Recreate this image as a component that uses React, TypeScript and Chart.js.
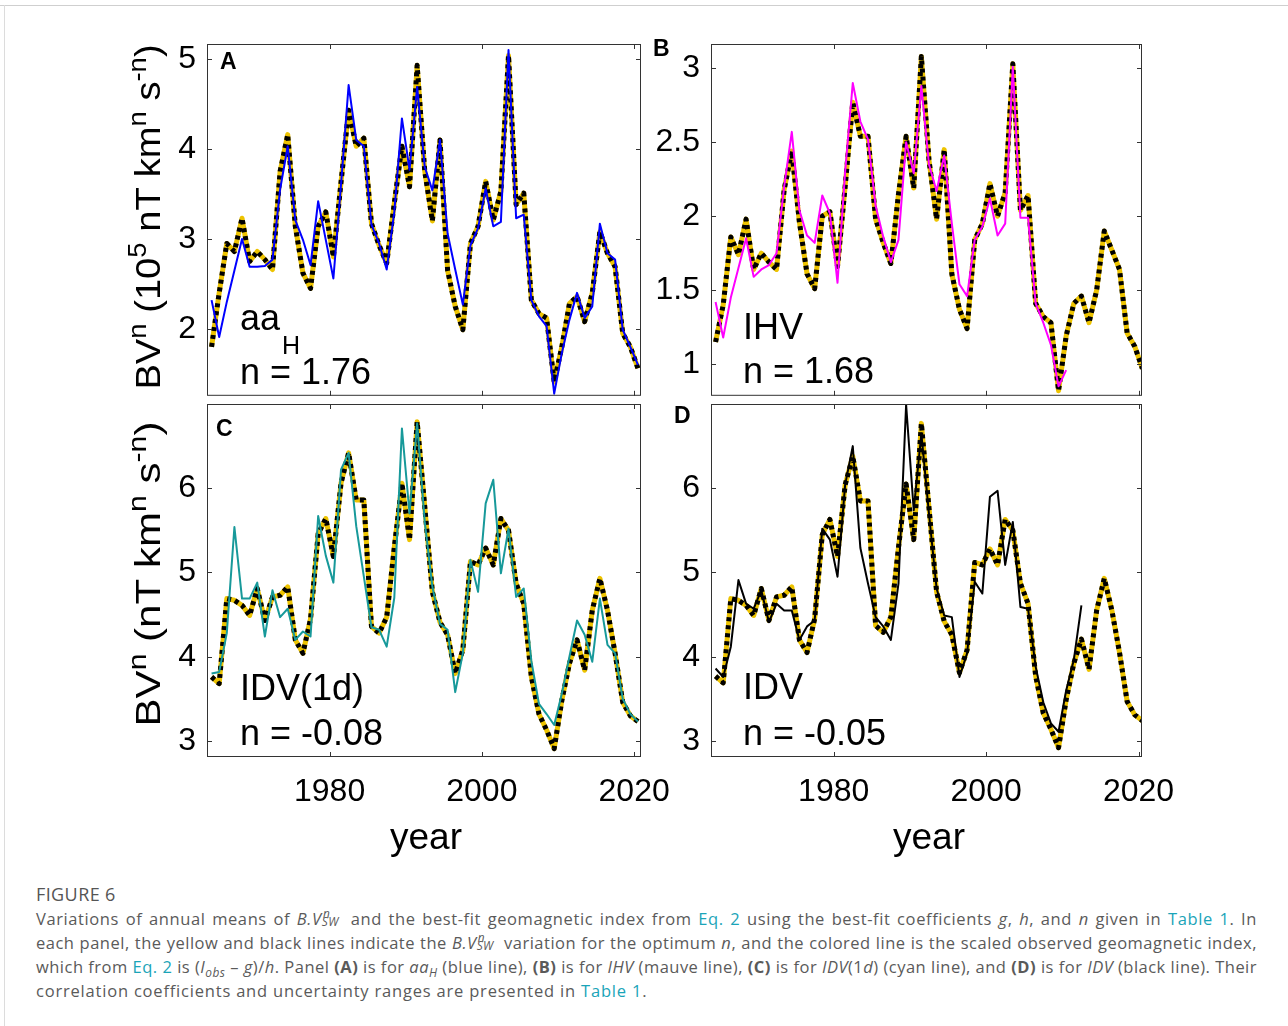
import React, { useEffect, useRef } from "react";
import { Chart, registerables } from "chart.js";

Chart.register(...registerables);

// ---------------- DATA ----------------
const years = [
  1964, 1965, 1966, 1967, 1968, 1969, 1970, 1971, 1972, 1973,
  1974, 1975, 1976, 1977, 1978, 1979, 1980, 1981, 1982, 1983,
  1984, 1985, 1986, 1987, 1988, 1989, 1990, 1991, 1992, 1993,
  1994, 1995, 1996, 1997, 1998, 1999, 2000, 2001, 2002, 2003,
  2004, 2005, 2006, 2007, 2008, 2009, 2010, 2011, 2012, 2013,
  2014, 2015, 2016, 2017, 2018, 2019, 2020,
];

// Panel A: B.V^n (n = 1.76) and scaled aa_H
const bvAaH = [
  1.8, 2.4, 2.95, 2.86, 3.23, 2.75, 2.86, 2.77, 2.66, 3.75,
  4.16, 3.14, 2.62, 2.45, 3.14, 3.3, 2.8, 3.63, 4.43, 4.03,
  4.12, 3.17, 2.93, 2.73, 3.4, 4.03, 3.58, 4.93, 3.75, 3.2,
  4.1, 2.65, 2.25, 1.99, 2.95, 3.14, 3.64, 3.21, 3.53, 5.04,
  3.38, 3.51, 2.32, 2.17, 2.12, 1.41, 1.8, 2.28, 2.36, 2.08,
  2.4, 3.08, 2.84, 2.69, 1.95, 1.8, 1.56,
];
const aaH = [
  2.32, 1.91, 2.3, 2.65, 3.0, 2.69, 2.69, 2.7, 2.77, 3.55,
  4.03, 3.21, 2.99, 2.71, 3.42, 2.99, 2.56, 3.6, 4.71, 4.1,
  4.03, 3.16, 2.95, 2.66, 3.3, 4.34, 3.77, 4.69, 3.8, 3.54,
  4.1, 3.06, 2.66, 2.27, 2.93, 3.12, 3.56, 3.14, 3.19, 5.1,
  3.23, 3.27, 2.32, 2.14, 2.03, 1.28, 1.73, 2.1, 2.4, 2.12,
  2.25, 3.17, 2.84, 2.77, 1.99, 1.8, 1.6,
];

// Panel B: B.V^n (n = 1.68) and scaled IHV (1964-2010)
const bvIhv = [
  1.15, 1.4, 1.86, 1.74, 1.98, 1.64, 1.75, 1.69, 1.64, 2.18,
  2.44, 1.96, 1.61, 1.51, 2.0, 2.03, 1.66, 2.2, 2.77, 2.54,
  2.54, 1.98, 1.82, 1.68, 2.15, 2.54, 2.19, 3.08, 2.38, 1.98,
  2.45, 1.61, 1.37, 1.24, 1.84, 1.95, 2.22, 2.0, 2.16, 3.03,
  2.04, 2.14, 1.41, 1.32, 1.28, 0.82, 1.19, 1.41, 1.46, 1.28,
  1.5, 1.9, 1.77, 1.64, 1.21, 1.12, 0.97,
];
const ihv = [
  1.42, 1.18, 1.45, 1.65, 1.85, 1.59, 1.64, 1.67, 1.75, 2.2,
  2.57, 2.04, 1.87, 1.82, 2.14, 2.02, 1.55, 2.3, 2.9, 2.64,
  2.52, 2.07, 1.86, 1.69, 1.84, 2.5, 2.29, 2.88, 2.35, 2.17,
  2.41, 1.95, 1.54, 1.46, 1.84, 1.93, 2.12, 1.87, 1.95, 3.01,
  1.99, 1.99, 1.41, 1.28, 1.13, 0.85, 0.96,
];

// Panel C: B.V^n (n = -0.08) and scaled IDV(1d)
const bvIdv1d = [
  3.76, 3.68, 4.69, 4.67, 4.61, 4.49, 4.81, 4.43, 4.71, 4.73,
  4.83, 4.2, 4.04, 4.45, 5.46, 5.64, 5.19, 6.06, 6.42, 5.86,
  5.86, 4.36, 4.28, 4.47, 5.3, 6.06, 5.39, 6.79, 5.78, 4.77,
  4.41, 4.26, 3.8, 4.08, 5.13, 5.09, 5.29, 5.09, 5.64, 5.5,
  4.87, 4.63, 3.76, 3.32, 3.13, 2.91, 3.48, 3.92, 4.2, 3.84,
  4.55, 4.93, 4.55, 4.04, 3.46, 3.3, 3.23,
];
const idv1d = [
  3.8, 3.82, 4.28, 5.54, 4.69, 4.69, 4.88, 4.24, 4.79, 4.47,
  4.57, 4.2, 4.3, 4.24, 5.67, 5.2, 4.88, 6.22, 6.42, 5.55,
  4.95, 4.35, 4.32, 4.12, 4.7, 6.71, 5.7, 6.77, 5.6, 4.83,
  4.39, 4.32, 3.58, 4.04, 5.15, 4.77, 5.82, 6.1, 4.99, 5.52,
  4.71, 4.81, 3.95, 3.44, 3.32, 3.19, 3.56, 4.0, 4.43, 4.26,
  3.94, 4.69, 4.14, 4.04, 3.5, 3.32, 3.23,
];

// Panel D: B.V^n (n = -0.05) and scaled IDV (1964-2012)
const bvIdv = [
  3.77, 3.69, 4.69, 4.67, 4.61, 4.49, 4.81, 4.43, 4.71, 4.73,
  4.83, 4.2, 4.05, 4.45, 5.45, 5.63, 5.19, 6.04, 6.38, 5.85,
  5.85, 4.37, 4.29, 4.47, 5.3, 6.05, 5.39, 6.77, 5.77, 4.77,
  4.42, 4.26, 3.81, 4.08, 5.12, 5.09, 5.28, 5.09, 5.63, 5.5,
  4.87, 4.63, 3.77, 3.33, 3.14, 2.92, 3.49, 3.92, 4.21, 3.85,
  4.55, 4.93, 4.55, 4.05, 3.47, 3.31, 3.24,
];
const idv = [
  3.86, 3.76, 4.12, 4.91, 4.63, 4.57, 4.79, 4.41, 4.63, 4.55,
  4.55, 4.2, 4.36, 4.43, 5.52, 5.39, 4.95, 6.04, 6.5, 5.29,
  4.87, 4.47, 4.36, 4.2, 4.87, 6.99, 5.74, 6.65, 5.7, 4.81,
  4.49, 4.47, 3.76, 4.04, 4.89, 4.75, 5.9, 5.97, 5.09, 5.6,
  4.59, 4.57, 3.88, 3.46, 3.21, 3.11, 3.6, 3.96, 4.61,
];

const xTickValues = [1980, 2000, 2020];
const yTicksA = [2, 3, 4, 5];
const yTicksB = [1, 1.5, 2, 2.5, 3];
const yTicksCD = [3, 4, 5, 6];

// ---------------- LAYOUT / STYLE ----------------
const FONT = "'Liberation Sans', Arial, Helvetica, sans-serif";
const CAP_FONT = "'Open Sans', 'Noto Sans', sans-serif";
const YELLOW = "#EDC300";

type Panel = {
  key: string;
  left: number;
  top: number;
  w: number;
  h: number;
  xMin: number;
  xMax: number;
  yMin: number;
  yMax: number;
  yTicks: number[];
  bv: number[];
  obs: number[];
  color: string;
  showX: boolean;
};

const panels: Panel[] = [
  { key: "A", left: 207, top: 44, w: 434, h: 352, xMin: 1963.9, xMax: 2020.9, yMin: 1.256, yMax: 5.167, yTicks: yTicksA, bv: bvAaH, obs: aaH, color: "#0000FF", showX: false },
  { key: "B", left: 711, top: 44, w: 431, h: 352, xMin: 1963.9, xMax: 2020.45, yMin: 0.786, yMax: 3.164, yTicks: yTicksB, bv: bvIhv, obs: ihv, color: "#FF00FF", showX: false },
  { key: "C", left: 207, top: 404, w: 434, h: 353, xMin: 1963.9, xMax: 2020.9, yMin: 2.81, yMax: 7.0, yTicks: yTicksCD, bv: bvIdv1d, obs: idv1d, color: "#17999A", showX: true },
  { key: "D", left: 711, top: 404, w: 431, h: 353, xMin: 1963.9, xMax: 2020.45, yMin: 2.81, yMax: 7.0, yTicks: yTicksCD, bv: bvIdv, obs: idv, color: "#000000", showX: true },
];

const PAD_L = 80;
const PAD_T = 40;
const PAD_R = 50;
const PAD_B = 30;
const X_AXIS_H = 60;

const framePlugin = {
  id: "matlabFrame",
  afterDraw(chart: any) {
    const { ctx, chartArea: a, scales } = chart;
    ctx.save();
    ctx.strokeStyle = "#333333";
    ctx.lineWidth = 1;
    ctx.strokeRect(a.left + 0.5, a.top + 0.5, a.right - a.left - 1, a.bottom - a.top - 1);
    const tl = 5;
    ctx.beginPath();
    scales.x.ticks.forEach((t: any) => {
      const x = Math.round(scales.x.getPixelForValue(t.value)) + 0.5;
      ctx.moveTo(x, a.top);
      ctx.lineTo(x, a.top + tl);
      ctx.moveTo(x, a.bottom);
      ctx.lineTo(x, a.bottom - tl);
    });
    scales.y.ticks.forEach((t: any) => {
      const y = Math.round(scales.y.getPixelForValue(t.value)) + 0.5;
      ctx.moveTo(a.left, y);
      ctx.lineTo(a.left + tl, y);
      ctx.moveTo(a.right, y);
      ctx.lineTo(a.right - tl, y);
    });
    ctx.stroke();
    ctx.restore();
  },
};

function toPoints(vals: number[]) {
  return vals.map((v, i) => ({ x: years[i] + 0.5, y: v }));
}

function makeConfig(p: Panel): any {
  return {
    type: "line",
    data: {
      datasets: [
        { data: toPoints(p.obs), borderColor: p.color, borderWidth: 2, pointRadius: 0, tension: 0, order: 0, borderJoinStyle: "round" },
        { data: toPoints(p.bv), borderColor: "#000000", borderWidth: 5, borderDash: [4, 4], borderCapStyle: "butt", borderJoinStyle: "round", pointRadius: 0, tension: 0, order: 1 },
        { data: toPoints(p.bv), borderColor: YELLOW, borderWidth: 5, pointRadius: 0, tension: 0, order: 2, borderJoinStyle: "round" },
      ],
    },
    options: {
      animation: false,
      responsive: false,
      maintainAspectRatio: false,
      events: [],
      layout: { padding: { left: 0, top: PAD_T, right: PAD_R, bottom: PAD_B } },
      plugins: { legend: { display: false }, tooltip: { enabled: false }, title: { display: false } },
      scales: {
        x: {
          type: "linear",
          min: p.xMin,
          max: p.xMax,
          afterFit: (s: any) => {
            s.height = p.showX ? X_AXIS_H : 0;
          },
          afterBuildTicks: (s: any) => {
            s.ticks = xTickValues.map((v) => ({ value: v }));
          },
          grid: { display: false, drawTicks: false },
          border: { display: false },
          ticks: {
            display: p.showX,
            color: "#000",
            font: { family: FONT, size: 32 },
            padding: 16,
            maxRotation: 0,
            autoSkip: false,
            callback: (v: any) => String(v),
          },
        },
        y: {
          type: "linear",
          min: p.yMin,
          max: p.yMax,
          afterFit: (s: any) => {
            s.width = PAD_L;
          },
          afterBuildTicks: (s: any) => {
            s.ticks = p.yTicks.map((v) => ({ value: v }));
          },
          grid: { display: false, drawTicks: false },
          border: { display: false },
          ticks: {
            color: "#000",
            font: { family: FONT, size: 32 },
            padding: 11,
            autoSkip: false,
            callback: (v: any) => String(v),
          },
        },
      },
    },
    plugins: [framePlugin],
  };
}

const abs = (extra: React.CSSProperties): React.CSSProperties => ({
  position: "absolute",
  fontFamily: FONT,
  color: "#000",
  lineHeight: 1,
  whiteSpace: "nowrap",
  ...extra,
});

const supS: React.CSSProperties = { fontSize: "0.72em", verticalAlign: "0.55em", lineHeight: 0 };
const subS: React.CSSProperties = { fontSize: "0.72em", lineHeight: 0 };
const linkC = "#1aa4b8";

function SupSub({ sup, sub }: { sup: string; sub: string }) {
  return (
    <span style={{ position: "relative", display: "inline-block", width: "1.35em", height: "1em" }}>
      <i style={{ position: "absolute", left: "0.1em", top: "-0.05em", fontSize: "0.72em", lineHeight: 1 }}>{sup}</i>
      <i style={{ position: "absolute", left: 0, top: "0.6em", fontSize: "0.72em", lineHeight: 1 }}>{sub}</i>
    </span>
  );
}

const justLine = (ls: number): React.CSSProperties => ({
  width: 1221,
  height: 24,
  textAlign: "justify",
  textAlignLast: "justify",
  whiteSpace: "nowrap",
  letterSpacing: ls,
});

export default function App() {
  const refs = [useRef<HTMLCanvasElement>(null), useRef<HTMLCanvasElement>(null), useRef<HTMLCanvasElement>(null), useRef<HTMLCanvasElement>(null)];

  useEffect(() => {
    const charts = panels.map((p, i) => new Chart(refs[i].current as HTMLCanvasElement, makeConfig(p)));
    return () => charts.forEach((c) => c.destroy());
  }, []);

  const link = (t: string) => <span style={{ color: linkC }}>{t}</span>;

  return (
    <div style={{ position: "fixed", left: 0, top: 0, width: 1288, height: 1026, background: "#fff", overflow: "hidden" }}>
      <div style={{ position: "absolute", left: 0, top: 5, width: 1288, height: 1, background: "#cfcfcf" }} />
      <div style={{ position: "absolute", left: 4, top: 5, width: 1, height: 1021, background: "#dcdcdc" }} />

      {panels.map((p, i) => {
        const W = PAD_L + p.w + PAD_R;
        const H = PAD_T + p.h + (p.showX ? X_AXIS_H : 0) + PAD_B;
        return (
          <canvas
            key={p.key}
            ref={refs[i]}
            width={W}
            height={H}
            style={{ position: "absolute", left: p.left - PAD_L, top: p.top - PAD_T, width: W, height: H }}
          />
        );
      })}

      {/* y axis labels */}
      <div style={abs({ left: 147, top: 217, fontSize: 35, transform: "translate(-50%,-50%) rotate(-90deg) scaleX(1.09)" })}>
        BV<span style={supS}>n</span> (10<span style={supS}>5</span> nT km<span style={supS}>n</span> s<span style={supS}>-n</span>)
      </div>
      <div style={abs({ left: 147, top: 574, fontSize: 35, transform: "translate(-50%,-50%) rotate(-90deg) scaleX(1.2)" })}>
        BV<span style={supS}>n</span> (nT km<span style={supS}>n</span> s<span style={supS}>-n</span>)
      </div>

      {/* x axis labels */}
      <div style={abs({ left: 426, top: 818, fontSize: 37, transform: "translateX(-50%)" })}>year</div>
      <div style={abs({ left: 929, top: 818, fontSize: 37, transform: "translateX(-50%)" })}>year</div>

      {/* panel letters */}
      <div style={abs({ left: 220, top: 50, fontSize: 23, fontWeight: "bold" })}>A</div>
      <div style={abs({ left: 653, top: 37, fontSize: 23, fontWeight: "bold" })}>B</div>
      <div style={abs({ left: 216, top: 417, fontSize: 23, fontWeight: "bold" })}>C</div>
      <div style={abs({ left: 674, top: 404, fontSize: 23, fontWeight: "bold" })}>D</div>

      {/* annotations */}
      <div style={abs({ left: 240, top: 300, fontSize: 36 })}>aa</div>
      <div style={abs({ left: 282, top: 333, fontSize: 25 })}>H</div>
      <div style={abs({ left: 240, top: 354, fontSize: 36 })}>n = 1.76</div>
      <div style={abs({ left: 743, top: 309, fontSize: 36 })}>IHV</div>
      <div style={abs({ left: 743, top: 353, fontSize: 36 })}>n = 1.68</div>
      <div style={abs({ left: 240, top: 670, fontSize: 36 })}>IDV(1d)</div>
      <div style={abs({ left: 240, top: 715, fontSize: 36 })}>n = -0.08</div>
      <div style={abs({ left: 743, top: 669, fontSize: 36 })}>IDV</div>
      <div style={abs({ left: 743, top: 715, fontSize: 36 })}>n = -0.05</div>

      {/* caption */}
      <div style={abs({ left: 36, top: 885, fontSize: 18, color: "#555", fontFamily: CAP_FONT, letterSpacing: 0.4 })}>FIGURE 6</div>
      <div style={abs({ left: 36, top: 907, fontSize: 16.5, color: "#5a5a5a", fontFamily: CAP_FONT, lineHeight: "24px" })}>
        <div style={justLine(0.6)}>
          Variations of annual means of <i>B.V</i><SupSub sup="n" sub="SW" /> and the best-fit geomagnetic index from {link("Eq. 2")} using the best-fit coefficients <i>g</i>, <i>h</i>, and <i>n</i> given in {link("Table 1")}. In
        </div>
        <div style={justLine(0.5)}>
          each panel, the yellow and black lines indicate the <i>B.V</i><SupSub sup="n" sub="SW" /> variation for the optimum <i>n</i>, and the colored line is the scaled observed geomagnetic index,
        </div>
        <div style={justLine(0.48)}>
          which from {link("Eq. 2")} is (<i>I</i><sub style={subS}><i>obs</i></sub> – <i>g</i>)/<i>h</i>. Panel <b>(A)</b> is for <i>aa<sub style={subS}>H</sub></i> (blue line), <b>(B)</b> is for <i>IHV</i> (mauve line), <b>(C)</b> is for <i>IDV</i>(1<i>d</i>) (cyan line), and <b>(D)</b> is for <i>IDV</i> (black line). Their
        </div>
        <div style={{ height: 24, letterSpacing: 0.8, whiteSpace: "nowrap" }}>
          correlation coefficients and uncertainty ranges are presented in {link("Table 1")}.
        </div>
      </div>
    </div>
  );
}
